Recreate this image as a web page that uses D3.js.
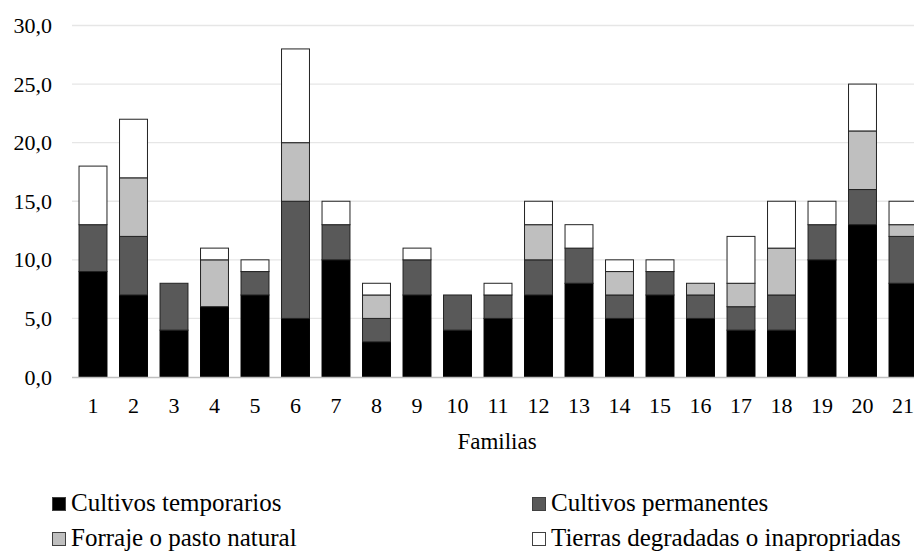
<!DOCTYPE html>
<html><head><meta charset="utf-8">
<script src="https://cdn.jsdelivr.net/npm/d3@7"></script>
<style>body{margin:0;background:#fff;} svg{display:block;} text{font-family:"Times New Roman","Liberation Serif","DejaVu Serif",serif;}</style>
</head><body>
<svg id="c" width="914" height="552"></svg>
<script>
const familias = ["1","2","3","4","5","6","7","8","9","10","11","12","13","14","15","16","17","18","19","20","21"];
const temporarios = [9,7,4,6,7,5,10,3,7,4,5,7,8,5,7,5,4,4,10,13,8];
const permanentes = [4,5,4,0,2,10,3,2,3,3,2,3,3,2,2,2,2,3,3,3,4];
const forraje = [0,5,0,4,0,5,0,2,0,0,0,3,0,2,0,1,2,4,0,5,1];
const degradadas = [5,5,0,1,1,8,2,1,1,0,1,2,2,1,1,0,4,4,2,4,2];
const seriesNames = ["Cultivos temporarios","Cultivos permanentes","Forraje o pasto natural","Tierras degradadas o inapropriadas"];
const yTicks = [0,5,10,15,20,25,30];
const colors = ["#000000","#595959","#bfbfbf","#ffffff"];

const FONT = "'Times New Roman','Liberation Serif','DejaVu Serif',serif";
const svg = d3.select("#c");
const x = d3.scaleBand().domain(familias).range([72.75, 923.25]).paddingInner(0.31).paddingOuter(0.155);
const y = d3.scaleLinear().domain([0,30]).range([377,25.5]);

svg.append("g").selectAll("line").data(yTicks.slice(1)).join("line")
  .attr("x1",72).attr("x2",914).attr("y1",d=>y(d)).attr("y2",d=>y(d))
  .attr("stroke","#e6e6e6").attr("stroke-width",1.3);

const table = familias.map((f,i)=>({f, s0:temporarios[i], s1:permanentes[i], s2:forraje[i], s3:degradadas[i]}));
const stack = d3.stack().keys(["s0","s1","s2","s3"])(table);
stack.forEach((layer,k)=>{
  svg.append("g").selectAll("rect").data(layer.filter(d=>d[1]-d[0]>0)).join("rect")
    .attr("x",d=>x(d.data.f)).attr("width",x.bandwidth())
    .attr("y",d=>y(d[1])).attr("height",d=>y(d[0])-y(d[1]))
    .attr("fill",colors[k]).attr("stroke",k===0?"#000":"#222").attr("stroke-width",1);
});

svg.append("line").attr("x1",72).attr("x2",914).attr("y1",377.5).attr("y2",377.5).attr("stroke","#bfbfbf").attr("stroke-width",1.5);

svg.append("g").selectAll("text").data(yTicks).join("text")
  .attr("x",52).attr("y",d=>y(d)+7.5).attr("text-anchor","end")
  .attr("font-family",FONT).attr("font-size",22).attr("fill","#000")
  .text(d=>d3.format(".1f")(d).replace(".",","));

svg.append("g").selectAll("text").data(familias).join("text")
  .attr("x",d=>x(d)+x.bandwidth()/2).attr("y",413).attr("text-anchor","middle")
  .attr("font-family",FONT).attr("font-size",22).text(d=>d);

svg.append("text").attr("x",497).attr("y",449).attr("text-anchor","middle")
  .attr("font-family",FONT).attr("font-size",23).text("Familias");

const legPos = [[52,511],[532,511],[52,546],[532,546]];
seriesNames.forEach((n,i)=>{
  const g = svg.append("g").attr("transform",`translate(${legPos[i][0]},${legPos[i][1]})`);
  g.append("rect").attr("x",0.5).attr("y",-13.5).attr("width",13).attr("height",13)
    .attr("fill",colors[i]).attr("stroke","#404040").attr("stroke-width",1);
  g.append("text").attr("x",19).attr("y",0).attr("font-family",FONT).attr("font-size",25).text(n);
});
</script>
</body></html>
